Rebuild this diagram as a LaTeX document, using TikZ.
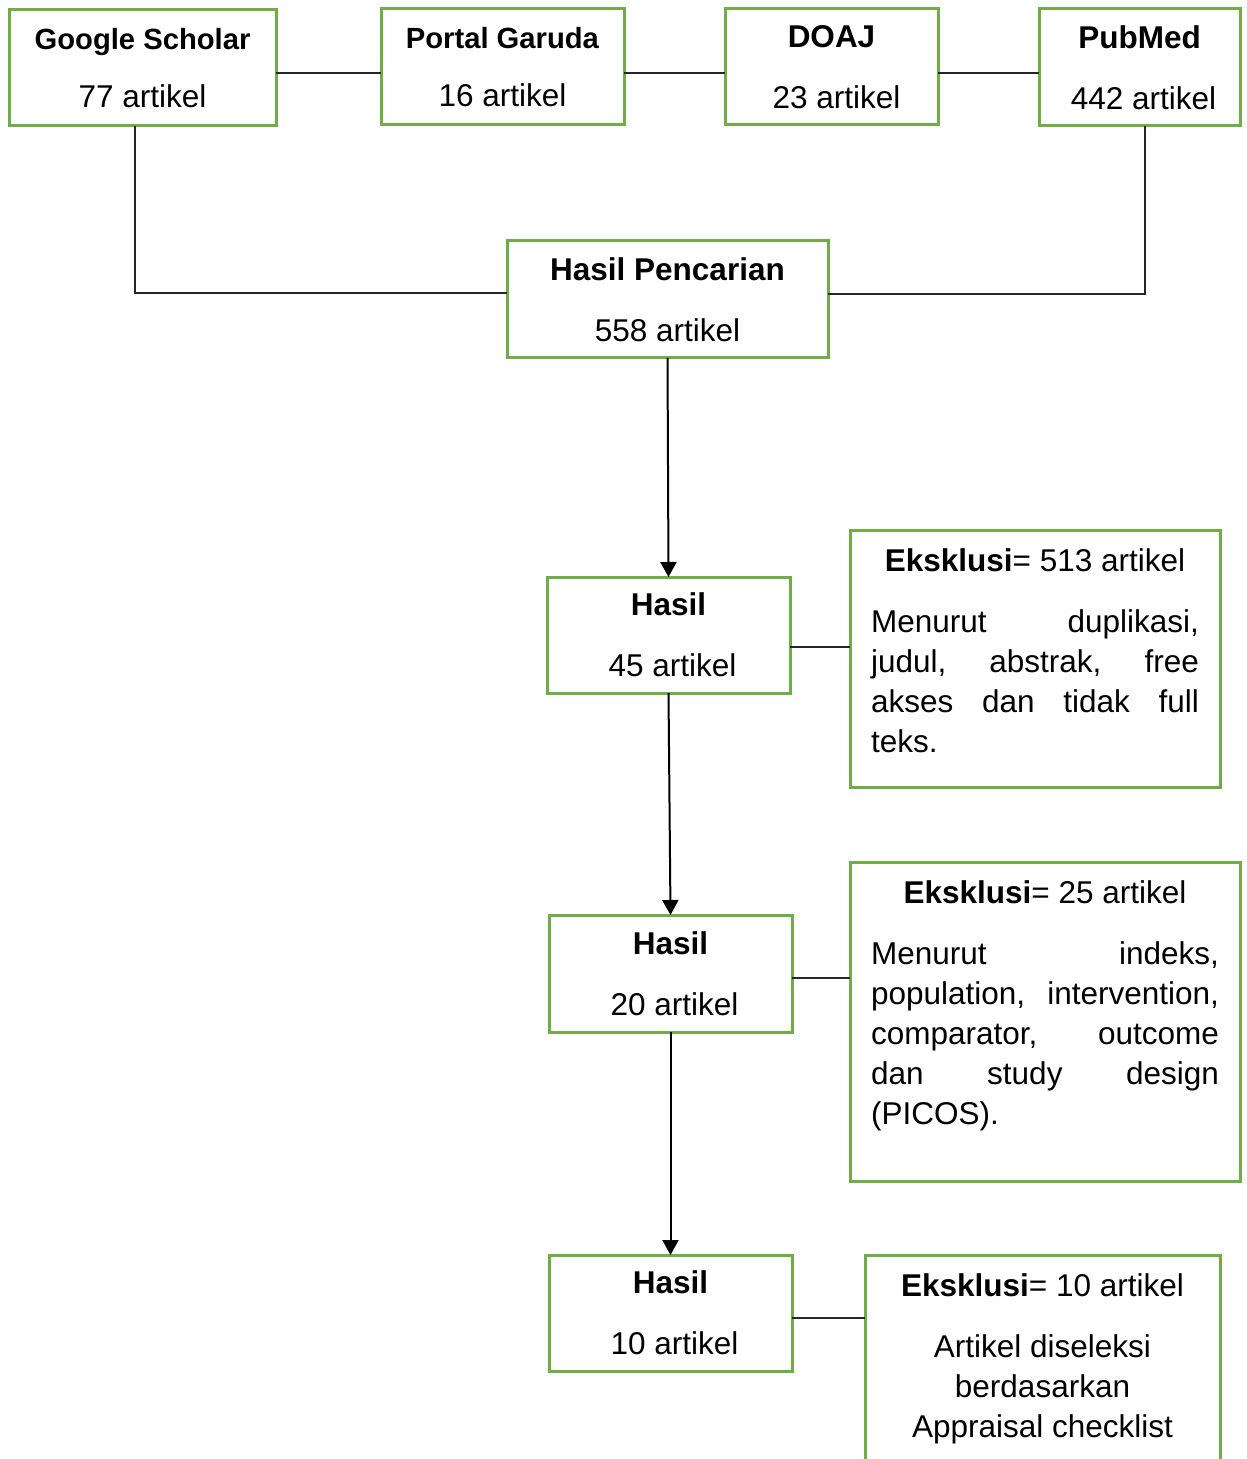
\documentclass[tikz,border=0pt]{standalone}
\usepackage{fontspec}
\setmainfont{Liberation Sans}
\usetikzlibrary{arrows.meta}
\definecolor{boxgreen}{RGB}{112,173,71}
\newcommand{\smalltitle}[1]{\textbf{\fontsize{14.6}{20}\selectfont #1}}

\begin{document}
\begin{tikzpicture}[x=0.5pt,y=-0.5pt,>={Triangle[width=8pt,length=7.5pt]},
        every node/.style={font=\fontsize{15.75}{20}\selectfont},
        main node/.style={draw=boxgreen,line width=1.5pt,align=center,inner sep=0pt,outer sep=0pt},
        excl node/.style={draw=boxgreen,line width=1.5pt,inner xsep=10.5pt,inner ysep=9.5pt,outer sep=0pt,anchor=north west},
        link/.style={draw=black!85,line width=0.6pt},
        flow/.style={->,line width=1pt}]
    \useasboundingbox (0,0) rectangle (1246,1459);
    \clip (0,0) rectangle (1246,1459);

    \node[main node,minimum width=133.5pt,minimum height=58pt] (gs) at (142.5,68) {\smalltitle{Google Scholar}\\[9pt]77 artikel};
    \node[main node,minimum width=121.5pt,minimum height=58pt] (pg) at (502.5,67) {\smalltitle{Portal Garuda}\\[9pt]16 artikel};
    \node[main node,minimum width=106.5pt,minimum height=58pt] (doaj) at (831.5,67) {\textbf{DOAJ}\\[10.5pt]\hspace*{5pt}23 artikel};
    \node[main node,minimum width=100.5pt,minimum height=58.5pt] (pub) at (1139.5,67.5) {\textbf{PubMed}\\[10.5pt]\hspace*{4pt}442 artikel};
    \node[main node,minimum width=160.5pt,minimum height=58.5pt] (hp) at (667.5,299.5) {\textbf{Hasil Pencarian}\\[10.5pt]558 artikel};
    \node[main node,minimum width=121.5pt,minimum height=58pt] (h1) at (668.5,635) {\textbf{Hasil}\\[10.5pt]\hspace*{4pt}45 artikel};
    \node[main node,minimum width=121.5pt,minimum height=58.5pt] (h2) at (670.5,973.5) {\textbf{Hasil}\\[10.5pt]\hspace*{4pt}20 artikel};
    \node[main node,minimum width=121.5pt,minimum height=58pt] (h3) at (670.5,1313) {\textbf{Hasil}\\[10.5pt]\hspace*{4pt}10 artikel};

    \node[excl node] (e1) at (850,530) {\parbox[c][109.5pt][t]{164pt}{{\centering\textbf{Eksklusi}= 513 artikel\par}\vspace{10.5pt}Menurut duplikasi,\linebreak judul, abstrak, free\linebreak akses dan tidak full\linebreak teks.}};
    \node[excl node] (e2) at (850,862) {\parbox[c][140.5pt][t]{174pt}{{\centering\textbf{Eksklusi}= 25 artikel\par}\vspace{10.5pt}Menurut indeks,\linebreak population, intervention,\linebreak comparator, outcome\linebreak dan study design\linebreak (PICOS).}};
    \node[excl node] (e3) at (865,1255) {\parbox[c][113.5pt][t]{156.5pt}{\centering\textbf{Eksklusi}= 10 artikel\par\vspace{10.5pt}Artikel diseleksi\\berdasarkan\\Appraisal checklist}};

    \draw[link] ([yshift=-2.5pt]gs.east) -- ([yshift=-3pt]pg.west);
    \draw[link] ([yshift=-3pt]pg.east) -- ([yshift=-3pt]doaj.west);
    \draw[link] ([yshift=-3pt]doaj.east) -- ([yshift=-2.75pt]pub.west);
    \draw[link] ([xshift=-3.75pt]gs.south) |- ([yshift=3.25pt]hp.west);
    \draw[link] ([xshift=2.75pt]pub.south) |- ([yshift=2.75pt]hp.east);

    \draw[flow] (hp.south) -- (h1.north);
    \draw[flow] (h1.south) -- (h2.north);
    \draw[flow] (h2.south) -- (h3.north);

    \coordinate (c1) at ([yshift=-6pt]h1.east);
    \coordinate (c2) at ([yshift=-2.25pt]h2.east);
    \coordinate (c3) at ([yshift=-2.5pt]h3.east);
    \draw[link] (c1) -- (c1 -| e1.west);
    \draw[link] (c2) -- (c2 -| e2.west);
    \draw[link] (c3) -- (c3 -| e3.west);
\end{tikzpicture}
\end{document}
